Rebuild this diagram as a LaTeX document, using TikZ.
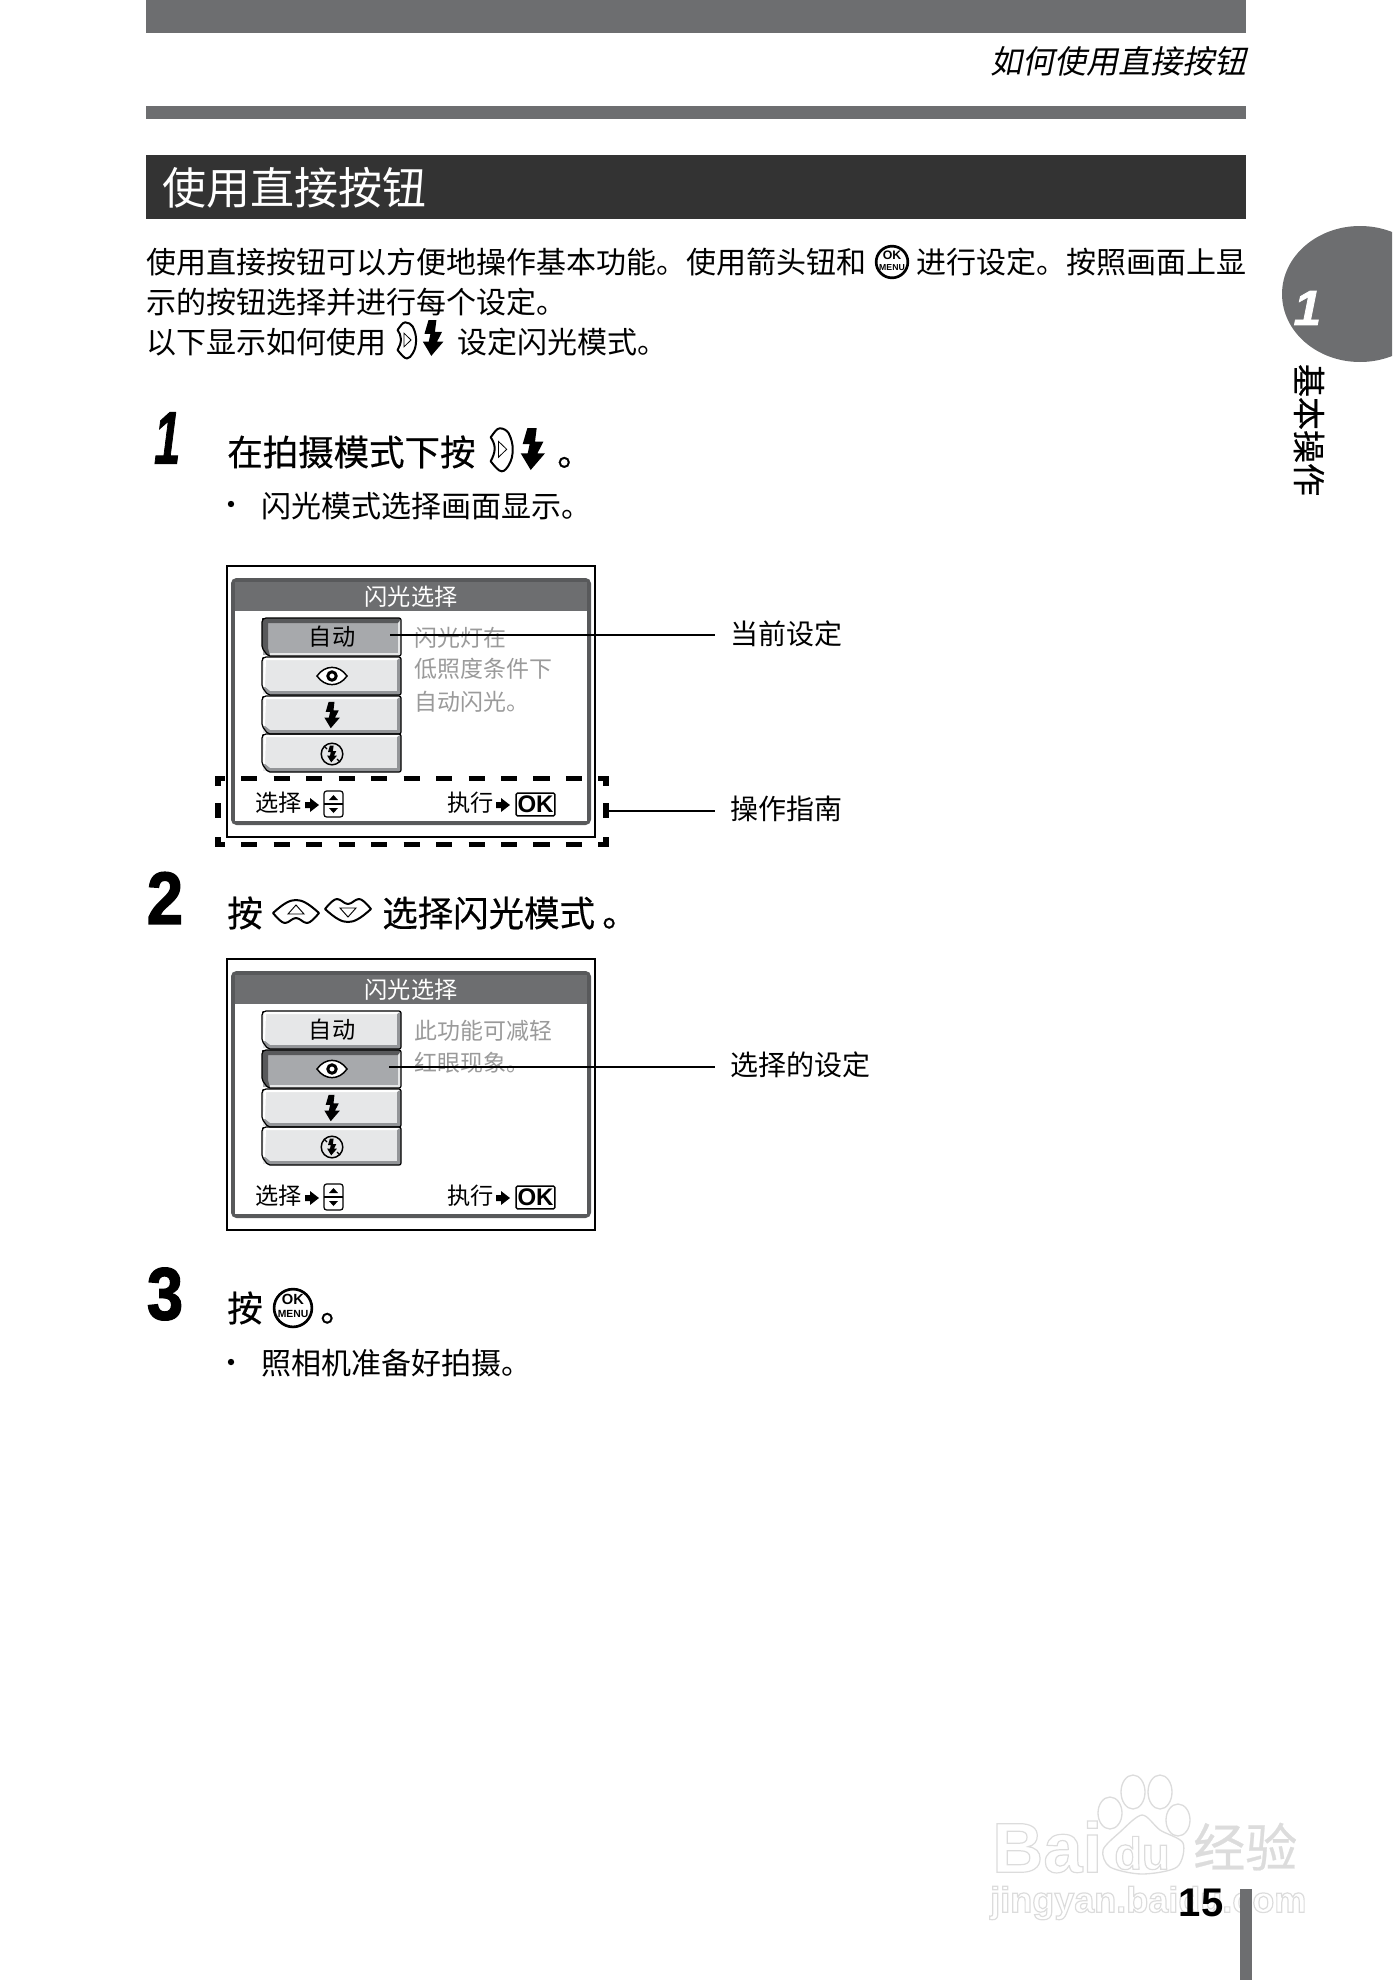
\documentclass[tikz,border=0pt]{standalone}
\usepackage{fontspec}
\setmainfont{Liberation Sans}
\newfontfamily\cjk{Noto Sans CJK SC}
\newfontfamily\cjkb[FakeBold=0.5]{Noto Sans CJK SC}
\newfontfamily\cjki[FakeSlant=0.2]{Noto Sans CJK SC}
\newfontfamily\stepf[FakeBold=2]{Liberation Sans Bold}
\newfontfamily\stepi[FakeBold=1.5,FakeSlant=0.2]{Liberation Sans Bold}
\newfontfamily\latb{Liberation Sans Bold}
\newcommand\wmon{\special{pdf:code 1 Tr 0.9 w}}
\newcommand\wmoff{\special{pdf:code 0 Tr}}
\definecolor{band}{HTML}{6D6E70}
\definecolor{bandd}{HTML}{58595B}
\definecolor{btnf}{HTML}{E6E7E8}
\definecolor{btns}{HTML}{A7A9AC}
\definecolor{btng}{HTML}{939598}
\definecolor{desc}{HTML}{9A9A9A}
\definecolor{wmc}{HTML}{DCDCDC}
\tikzset{
  cn/.style={font=\cjk\fontsize{#1}{#1}\selectfont,text height=#1*0.88pt,text depth=#1*0.12pt,inner sep=0pt,anchor=west},
  cnb/.style={font=\cjkb\fontsize{#1}{#1}\selectfont,text height=#1*0.88pt,text depth=#1*0.12pt,inner sep=0pt,anchor=west},
  leader/.style={line width=1.2pt},
  hdash/.style={line width=4.1pt,dash pattern=on 12.15pt off 12.2pt,dash phase=4.65pt},
  vdash/.style={line width=4.1pt,dash pattern=on 7.5pt off 12.75pt on 11.25pt off 14.25pt on 8.25pt off 1pt},
  stepnum/.style={font=\stepf\fontsize{55.5}{55.5}\selectfont,inner sep=0pt,transform shape,xscale=.88},
  flashic/.pic={\fill (4,-21)--(-5.3,-21)--(-10,-5)--(-3,-5)--(-5,4.3)--(-12,4.3)--(-2,21)--(12.3,4.3)--(4.7,4.3)--(10.7,-7.3)--(2.3,-7.3)--cycle;},
  rbtn/.pic={
    \draw[line width=1.5pt,line join=round] (-1,-21) .. controls (3,-21) and (6,-19) .. (8,-16) .. controls (11,-10) and (12,-5) .. (12,0) .. controls (12,6) and (11,11) .. (8,16) .. controls (6,19) and (4,22) .. (1,22) .. controls (-2,22) and (-6,17) .. (-10,12) .. controls (-8,8) and (-6,4) .. (-6,-1) .. controls (-6,-5) and (-8,-9) .. (-10,-12) .. controls (-7,-16) and (-4,-21) .. cycle;
    \draw[line width=.6pt] (-2.3,-8)--(-2.3,8)--(6,0)--cycle;},
  lensic/.pic={
    \draw[line width=1.5pt,line join=round] (-23,2) .. controls (-12,-8) and (-6,-11) .. (0,-11) .. controls (6,-11) and (12,-8) .. (23,2) .. controls (18,8) and (14,12) .. (11,12) .. controls (7,12) and (4,7) .. (0,7) .. controls (-4,7) and (-7,12) .. (-11,12) .. controls (-14,12) and (-18,8) .. cycle;
    \draw[line width=.7pt] (-8,3)--(8,3)--(0,-6)--cycle;},
  okmenu/.pic={
    \draw[line width=2pt,fill=white] (0,0) circle (18);
    \node[transform shape,inner sep=0pt,font=\latb\fontsize{10.5}{10.5}\selectfont] (-ok) at (0,-8) {OK};
    \node[transform shape,inner sep=0pt,font=\latb\fontsize{7.4}{7.4}\selectfont] (-menu) at (0,6) {MENU};},
  eyeic/.pic={
    \draw[line width=1.1pt,fill=white] (-15,0) .. controls (-7,-11.5) and (7,-11.5) .. (15,0) .. controls (7,11.5) and (-7,11.5) .. cycle;
    \draw[line width=2.2pt] (0,0) circle (4.2);},
  noflash/.pic={
    \draw[line width=1.1pt] (0,0) circle (10.8);
    \pic[scale=.4] {flashic};
    \draw[line width=.9pt] (-8,-8)--(-5,-5) (8,8)--(5,5);},
  arrowic/.pic={\fill (-7,-3)--(-2,-3)--(-2,-7)--(7,0)--(-2,7)--(-2,3)--(-7,3)--cycle;},
  selic/.pic={
    \draw[line width=.9pt,rounded corners=2] (-9.5,-13) rectangle (9.5,13);
    \draw[line width=.9pt] (-9.5,0)--(9.5,0);
    \fill (-4.5,-4)--(4.5,-4)--(0,-9)--cycle;
    \fill (-4.5,4)--(4.5,4)--(0,9)--cycle;},
  btnplain/.pic={
    \fill[btnf] (1,1) rectangle (138,37);
    \fill[btng] (6,38)--(0,30)--(3,30)--(8,34)--(135,34)--(135,2)--(139,1)--(139,38)--cycle;
    \fill[white] (2,1)--(137,1)--(135,3)--(4,3)--(3,30)--(1,30)--cycle;
    \draw[line width=.9pt,line join=round,rounded corners=1.5] (2,0)--(139,0)--(139,38)--(6,38)--(0,30)--(0,2)--cycle;},
  btnpick/.pic={
    \fill[btns] (1,1) rectangle (138,37);
    \fill[bandd] (6,38)--(0,30)--(0,0)--(139,0)--(136,5)--(6,5)--(6,30)--(8,38)--cycle;
    \fill[btnf] (8,35)--(139,35)--(139,38)--(8,38)--cycle;
    \fill[btnf] (136,5)--(139,2)--(139,38)--(136,38)--cycle;
    \draw[line width=.9pt,line join=round,rounded corners=1.5] (2,0)--(139,0)--(139,38)--(6,38)--(0,30)--(0,2)--cycle;}
}
\begin{document}
\begin{tikzpicture}[x=.75pt,y=-.75pt]
\useasboundingbox (0,0) rectangle (1392,1980);
% watermark
\begin{scope}[color=wmc]
  \draw[line width=1pt,wmc] (1110,1813) ellipse (12 and 16);
  \draw[line width=1pt,wmc] (1133,1792) ellipse (12 and 17);
  \draw[line width=1pt,wmc] (1160,1792) ellipse (12 and 17);
  \draw[line width=1pt,wmc] (1178,1820) ellipse (12 and 16);
  \draw[line width=1pt,wmc] plot[smooth cycle] coordinates {(1142,1815)(1160,1830)(1183,1843)(1177,1867)(1142,1874)(1110,1867)(1103,1850)(1120,1832)};
  \node[inner sep=0pt,anchor=west,text=wmc,font=\latb\fontsize{53}{53}\selectfont] (wma) at (992,1847) {\wmon Bai\wmoff};
  \node[inner sep=0pt,text=wmc,font=\latb\fontsize{34}{34}\selectfont] (wmb) at (1142,1853) {\wmon du\wmoff};
  \node[cnb=39,anchor=west,text=wmc] (wmtxt) at (1193,1847) {\wmon 经验\wmoff};
  \node[inner sep=0pt,anchor=west,text=wmc,font=\latb\fontsize{27}{27}\selectfont] (wmd) at (990,1903) {\wmon jingyan.baidu.com\wmoff};
\end{scope}
% page furniture
\fill[band] (146,0) rectangle (1246,33);
\fill[band] (146,106) rectangle (1246,119);
\node[cn=24,anchor=east] (hdr) at (1247,61) {\cjki 如何使用直接按钮};
\fill[black!80] (146,155) rectangle (1246,219);
\node[cn=33,text=white] (title) at (162,188) {使用直接按钮};
% side tab
\begin{scope}
  \clip (1200,200) rectangle (1392,400);
  \fill[band] (1360,294) ellipse (78 and 68);
\end{scope}
\node[text=white,inner sep=0pt,font=\stepi\fontsize{37}{37}\selectfont] (tabn) at (1305,308) {1};
\node[cnb=24.75,anchor=center,rotate=-90] (tabt) at (1309,430) {基本操作};
% page number
\fill[band] (1240,1889) rectangle (1252,1980);
\node[inner sep=0pt,font=\latb\fontsize{30}{30}\selectfont] (pg) at (1201,1903) {15};
% intro
\node[cn=22.5] (p1a) at (146,262) {使用直接按钮可以方便地操作基本功能。使用箭头钮和};
\pic[scale=.88] (okp) at (892,262) {okmenu};
\node[cn=22.5] (p1b) at (916,262) {进行设定。按照画面上显};
\node[cn=22.5] (p2) at (146,302) {示的按钮选择并进行每个设定。};
\node[cn=22.5] (p3a) at (146,342) {以下显示如何使用};
\pic[scale=.84] at (406,340) {rbtn};
\pic[scale=.85] at (433,338) {flashic};
\node[cn=22.5] (p3b) at (457,342) {设定闪光模式。};
% step 1
\node[stepnum,font=\stepi\fontsize{55.5}{55.5}\selectfont,xscale=.72] (n1) at (165,438) {1};
\node[cnb=26.6] (s1a) at (227,452) {在拍摄模式下按};
\pic at (500.7,449.3) {rbtn};
\pic at (532.7,449) {flashic};
\node[cnb=27] (s1b) at (557,452) {。};
\fill (231,504) circle (3.2);
\node[cn=22.5] (s1c) at (261,506) {闪光模式选择画面显示。};
% step 2
\node[stepnum] (n2) at (165,898) {2};
\node[cnb=26.6] (s2a) at (227,913) {按};
\pic at (296,911) {lensic};
\pic[yscale=-1] at (348,911) {lensic};
\node[cnb=26.6] (s2b) at (382,913) {选择闪光模式};
\node[cnb=26.6] (s2c) at (602,913) {。};
% step 3
\node[stepnum] (n3) at (165,1294) {3};
\node[cnb=26.6] (s3a) at (227,1308) {按};
\pic[scale=1.05] (oks) at (293,1308) {okmenu};
\node[cnb=26.6] (s3b) at (320,1308) {。};
\fill (231,1362) circle (3.2);
\node[cn=22.5] (s3c) at (261,1363) {照相机准备好拍摄。};
% screen 1
\draw[line width=1.5pt] (227,566) rectangle (595,837);
\fill[bandd,rounded corners=4] (231,578) rectangle (591,825);
\fill[white] (235,611) rectangle (587,821);
\fill[band] (235,582) rectangle (587,611);
\node[cn=17.4,anchor=center,text=white] (t1) at (411,597) {闪光选择};
\pic at (262,618) {btnpick};
\pic at (262,657) {btnplain};
\pic at (262,696) {btnplain};
\pic at (262,734) {btnplain};
\node[cn=17.4,anchor=center] (a1) at (332,637) {自动};
\pic at (332,676) {eyeic};
\pic[scale=.63] at (332,715) {flashic};
\pic at (332,754) {noflash};
\node[cn=17.2,text=desc] (d1a) at (414.5,638) {闪光灯在};
\node[cn=17.2,text=desc] (d1b) at (414.5,669) {低照度条件下};
\node[cn=17.2,text=desc] (d1c) at (414.5,702) {自动闪光。};
\node[cn=17.4] (f1a) at (255,803) {选择};
\pic at (312,805) {arrowic};
\pic at (333.5,804) {selic};
\node[cn=17.4] (f1b) at (447.5,803) {执行};
\pic at (503,805) {arrowic};
\node[draw,line width=1.1pt,inner sep=0pt,minimum width=29pt,minimum height=17pt,rounded corners=1pt,font=\latb\fontsize{18}{18}\selectfont] (k1) at (535.5,804.5) {OK};
% screen 2
\begin{scope}[shift={(0,393)}]
\draw[line width=1.5pt] (227,566) rectangle (595,837);
\fill[bandd,rounded corners=4] (231,578) rectangle (591,825);
\fill[white] (235,611) rectangle (587,821);
\fill[band] (235,582) rectangle (587,611);
\node[cn=17.4,anchor=center,text=white] (t2) at (411,597) {闪光选择};
\pic at (262,618) {btnplain};
\pic at (262,657) {btnpick};
\pic at (262,696) {btnplain};
\pic at (262,734) {btnplain};
\node[cn=17.4,anchor=center] (a2) at (332,637) {自动};
\pic at (332,676) {eyeic};
\pic[scale=.63] at (332,715) {flashic};
\pic at (332,754) {noflash};
\node[cn=17.2,text=desc] (d2a) at (414.5,638) {此功能可减轻};
\node[cn=17.2,text=desc] (d2b) at (414.5,670) {红眼现象。};
\node[cn=17.4] (f2a) at (255,803) {选择};
\pic at (312,805) {arrowic};
\pic at (333.5,804) {selic};
\node[cn=17.4] (f2b) at (447.5,803) {执行};
\pic at (503,805) {arrowic};
\node[draw,line width=1.1pt,inner sep=0pt,minimum width=29pt,minimum height=17pt,rounded corners=1pt,font=\latb\fontsize{18}{18}\selectfont] (k2) at (535.5,804.5) {OK};
\end{scope}
% dashed guide
\coordinate (dtl) at (215,778.5);
\coordinate (dtr) at (609,778.5);
\coordinate (dbl) at (215,844.5);
\coordinate (dbr) at (609,844.5);
\draw[hdash] (dtl) -- (dtr);
\draw[hdash] (dbl) -- (dbr);
\draw[vdash] (218,776) -- (218,847);
\draw[vdash] (606,776) -- (606,847);
% leaders
\tikzset{lab/.style={cn=21,inner xsep=11.25pt}}
\coordinate (c1) at (390,635);
\coordinate (c2) at (609,811);
\coordinate (c3) at (389,1067);
\node[lab] (l1) at (715,634) {当前设定};
\node[lab] (l2) at (715,809) {操作指南};
\node[lab] (l3) at (715,1065) {选择的设定};
\draw[leader] (c1) -- (c1 -| l1.west);
\draw[leader] (c2) -- (c2 -| l2.west);
\draw[leader] (c3) -- (c3 -| l3.west);
\end{tikzpicture}
\end{document}
